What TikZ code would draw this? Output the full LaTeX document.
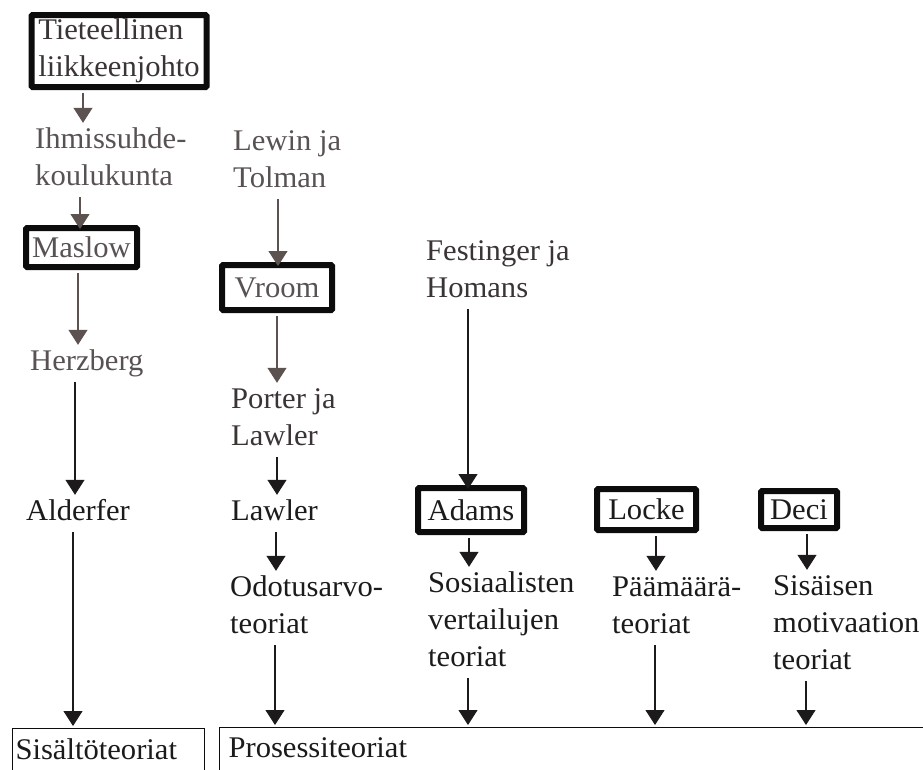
\documentclass[tikz,border=0pt]{standalone}
\usepackage{fontspec}
\setmainfont[FakeStretch=1.02]{Liberation Serif}
\usetikzlibrary{arrows.meta}
\definecolor{fadeA}{RGB}{88,82,82}
\definecolor{fadeB}{RGB}{58,52,52}
\definecolor{inkC}{RGB}{28,26,26}
\definecolor{arrA}{RGB}{92,82,80}
\definecolor{boxC}{RGB}{12,12,12}
\begin{document}
\begin{tikzpicture}[x=1pt,y=-1pt,
  txt/.style={font=\fontsize{30}{37}\selectfont},
  lbl/.style={txt,anchor=base west,inner xsep=0pt,inner ysep=0pt,align=left,text=inkC,text depth=9pt},
  one/.style={text height=25pt},
  two/.style={text height=62pt},
  three/.style={text height=99pt},
  thickbox/.style={txt,draw=boxC,line width=6pt,rounded corners=1pt,inner sep=0pt,align=left,text=inkC},
  thinbox/.style={txt,draw=boxC,line width=1.1pt,anchor=north west,align=left,text depth=40pt,text=inkC},
  arr/.style={line width=1.1pt,draw=inkC,-{Triangle[width=19pt,length=15pt]},shorten <=3pt},
  arrg/.style={arr,draw=arrA,fill=arrA},
  intobox/.style={shorten >=-4pt},
  intothin/.style={shorten >=2pt}
]
\useasboundingbox (0,0) rectangle (923,769);
\clip (0,0) rectangle (923,769);

% boxed nodes
\node[thickbox,text=fadeB,minimum width=175pt,minimum height=72pt] (tl) at (119,51) {Tieteellinen\\liikkeenjohto};
\node[thickbox,text=fadeA,minimum width=111pt,minimum height=39pt] (ma) at (81.5,247.5) {Maslow};
\node[thickbox,text=fadeA,minimum width=110pt,minimum height=45pt] (vr) at (277,287.5) {Vroom};
\node[thickbox,minimum width=106pt,minimum height=44pt] (ad) at (471,510) {Adams};
\node[thickbox,minimum width=99pt,minimum height=41pt] (lo) at (646.5,509.5) {Locke};
\node[thickbox,minimum width=76pt,minimum height=37pt] (de) at (799,509.5) {Deci};

% plain labels (base = baseline of the last line)
\node[lbl,two,text=fadeA] (ih) at (35,185) {Ihmissuhde-\\koulukunta};
\node[lbl,two,text=fadeA] (lt) at (233,187) {Lewin ja\\Tolman};
\node[lbl,one,text=fadeA] (hz) at (30,370) {Herzberg};
\node[lbl,two,text=fadeB] (pl) at (231,445) {Porter ja\\Lawler};
\node[lbl,two,text=fadeB] (fh) at (426,297) {Festinger ja\\Homans};
\node[lbl,one] (al) at (26,520) {Alderfer};
\node[lbl,one] (la) at (231,520) {Lawler};
\node[lbl,two] (od) at (230,633) {Odotusarvo-\\teoriat};
\node[lbl,three] (so) at (428,666) {Sosiaalisten\\vertailujen\\teoriat};
\node[lbl,two] (pa) at (612,633) {Päämäärä-\\teoriat};
\node[lbl,three] (si) at (773,669) {Sisäisen\\motivaation\\teoriat};

% bottom open boxes
\node[thinbox,inner xsep=3pt,inner ysep=10pt,text width=186pt] (sis) at (12,728) {Sisältöteoriat};
\node[thinbox,inner xsep=9pt,inner ysep=10pt,text width=740pt] (pro) at (219,727) {Prosessiteoriat};

% x positions of connectors
\coordinate (x1) at (83,0);
\coordinate (x2) at (80,0);
\coordinate (x3) at (78,0);
\coordinate (x4) at (75,0);
\coordinate (x5) at (73,0);
\coordinate (x6) at (278,0);
\coordinate (x7) at (277,0);
\coordinate (x8) at (276,0);
\coordinate (x9) at (275,0);
\coordinate (x10) at (468,0);
\coordinate (x11) at (469,0);
\coordinate (x12) at (656,0);
\coordinate (x13) at (655,0);
\coordinate (x14) at (807,0);
\coordinate (x15) at (806,0);

% connectors
\draw[arrg] (tl.south -| x1) -- (ih.north -| x1);
\draw[arrg,intobox] (ih.south -| x2) -- (ma.north -| x2);
\draw[arrg] (ma.south -| x3) -- (hz.north -| x3);
\draw[arr] (hz.south -| x4) -- (al.north -| x4);
\draw[arr,intothin] (al.south -| x5) -- (sis.north -| x5);

\draw[arrg,intobox] (lt.south -| x6) -- (vr.north -| x6);
\draw[arrg] (vr.south -| x7) -- (pl.north -| x7);
\draw[arr] (pl.south -| x7) -- (la.north -| x7);
\draw[arr] (la.south -| x8) -- (od.north -| x8);
\draw[arr,intothin] (od.south -| x9) -- (pro.north -| x9);

\draw[arr,intobox] (fh.south -| x10) -- (ad.north -| x10);
\draw[arr] (ad.south -| x11) -- (so.north -| x11);
\draw[arr,intothin] (so.south -| x10) -- (pro.north -| x10);

\draw[arr] (lo.south -| x12) -- (pa.north -| x12);
\draw[arr,intothin] (pa.south -| x13) -- (pro.north -| x13);

\draw[arr] (de.south -| x14) -- (si.north -| x14);
\draw[arr,intothin] (si.south -| x15) -- (pro.north -| x15);
\end{tikzpicture}
\end{document}
